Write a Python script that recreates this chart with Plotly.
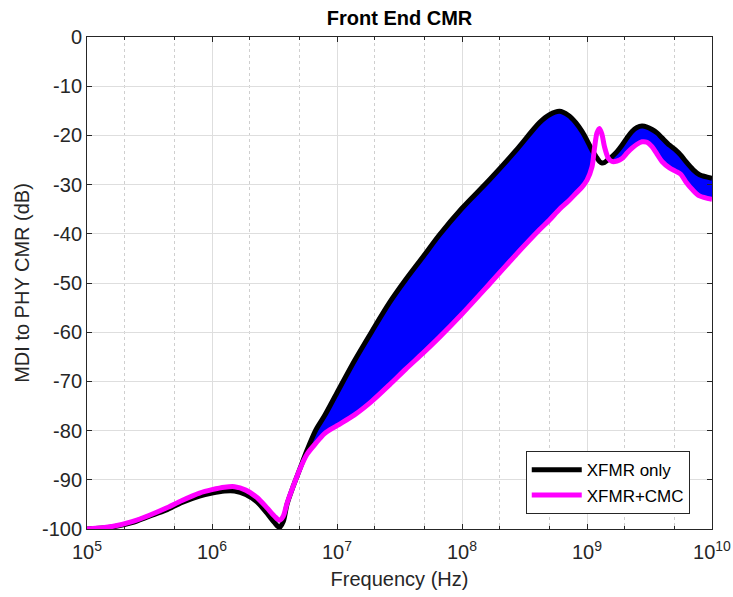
import plotly.graph_objects as go

# Frequency points (Hz)
freq_hz = [1.0e5, 1.585e5, 2.291e5, 3.162e5, 4.266e5, 5.754e5, 7.943e5, 1.0e6,
           1.259e6, 1.514e6, 1.862e6, 2.291e6, 2.754e6, 3.162e6, 3.467e6, 3.715e6,
           3.981e6, 4.467e6, 5.012e6, 5.754e6, 6.761e6, 7.943e6, 1.0e7, 1.380e7,
           1.905e7, 2.630e7, 3.548e7, 4.898e7, 6.607e7, 1.0e8, 1.660e8, 2.692e8,
           4.169e8, 5.012e8, 6.026e8, 7.079e8, 8.128e8, 9.120e8, 1.0e9, 1.096e9,
           1.148e9, 1.202e9, 1.259e9, 1.318e9, 1.380e9, 1.479e9, 1.585e9, 1.738e9,
           1.905e9, 2.089e9, 2.291e9, 2.512e9, 2.754e9, 3.020e9, 3.311e9, 3.631e9,
           3.981e9, 4.571e9, 5.129e9, 5.623e9, 6.166e9, 7.079e9, 7.943e9, 1.0e10]

# XFMR only (dB)
xfmr_only = [-100.0, -99.6, -98.7, -97.4, -96.2, -94.6, -93.3, -92.7,
             -92.3, -92.3, -93.0, -94.5, -96.8, -98.7, -99.7, -98.5,
             -95.0, -91.3, -88.0, -84.0, -79.9, -77.0, -72.3, -65.8,
             -59.8, -54.0, -49.3, -44.6, -40.2, -34.8, -29.0, -23.1,
             -17.4, -15.8, -15.1, -15.9, -17.4, -19.2, -21.0, -23.0,
             -23.8, -24.6, -25.3, -25.6, -25.5, -24.9, -24.3, -23.3,
             -22.0, -20.5, -19.2, -18.4, -18.1, -18.3, -18.8, -19.5,
             -20.5, -22.0, -23.0, -24.0, -25.3, -27.0, -28.0, -28.7]

# XFMR+CMC (dB)
xfmr_cmc = [-100.0, -99.5, -98.5, -97.2, -95.8, -94.2, -92.7, -92.0,
            -91.5, -91.4, -92.1, -93.6, -95.7, -97.4, -98.2, -97.4,
            -94.8, -91.3, -88.0, -84.8, -82.6, -80.6, -79.0, -76.8,
            -74.0, -70.7, -67.5, -64.2, -61.0, -56.3, -50.2, -44.3,
            -39.2, -37.2, -35.0, -33.4, -31.8, -30.5, -29.1, -26.4,
            -22.6, -19.5, -18.6, -19.8, -22.3, -24.6, -25.3, -25.2,
            -24.7, -23.6, -22.6, -21.8, -21.3, -21.4, -22.3, -23.8,
            -25.3, -26.6, -27.3, -27.9, -29.4, -31.2, -32.3, -33.0]

x_tick_vals = [1e5, 1e6, 1e7, 1e8, 1e9, 1e10]
x_tick_text = ["10<sup>5</sup>", "10<sup>6</sup>", "10<sup>7</sup>",
               "10<sup>8</sup>", "10<sup>9</sup>", "10<sup>10</sup>"]
y_tick_vals = [0, -10, -20, -30, -40, -50, -60, -70, -80, -90, -100]
y_tick_text = ["0", "-10", "-20", "-30", "-40", "-50", "-60", "-70", "-80", "-90", "-100"]

lower_edge = [min(a, b) for a, b in zip(xfmr_only, xfmr_cmc)]

FONT = "Liberation Sans, Arial, Helvetica, sans-serif"
AX = "#262626"
SH = dict(shape="spline", smoothing=0.8)

fig = go.Figure()
fig.add_trace(go.Scatter(x=freq_hz, y=lower_edge, mode="lines",
                         line=dict(width=0, color="#0000ff", **SH),
                         showlegend=False, hoverinfo="skip"))
fig.add_trace(go.Scatter(x=freq_hz, y=xfmr_only, mode="lines", fill="tonexty",
                         fillcolor="#0000ff",
                         line=dict(width=0, color="#0000ff", **SH),
                         showlegend=False, hoverinfo="skip"))
fig.add_trace(go.Scatter(x=freq_hz, y=xfmr_only, mode="lines", name="XFMR only",
                         line=dict(width=5, color="#000000", **SH)))
fig.add_trace(go.Scatter(x=freq_hz, y=xfmr_cmc, mode="lines", name="XFMR+CMC",
                         line=dict(width=5, color="#ff00ff", **SH)))

W, H = 733, 597
fig.update_layout(
    width=W, height=H,
    margin=dict(l=87, r=21, t=37, b=68, autoexpand=False),
    paper_bgcolor="white", plot_bgcolor="white",
    font=dict(family=FONT, size=19, color=AX),
    title=dict(text="<b>Front End CMR</b>", x=(87 + 312.5) / W, xanchor="center",
               y=1 - 18 / H, yanchor="middle",
               font=dict(family=FONT, size=20, color="#000000")),
    showlegend=True,
    legend=dict(x=0.702, y=0.03, xanchor="left", yanchor="bottom",
                traceorder="normal",
                bgcolor="white", bordercolor=AX, borderwidth=1,
                font=dict(family=FONT, size=17, color="#000000"),
                itemwidth=50, tracegroupgap=0),
)

fig.update_xaxes(
    type="log", range=[5, 10], automargin=False,
    tickvals=x_tick_vals, ticktext=x_tick_text,
    ticks="inside", ticklen=5, tickcolor=AX,
    showline=True, linecolor=AX, linewidth=1, mirror="allticks",
    showgrid=True, gridcolor="#dedede", gridwidth=1, zeroline=False,
    tickfont=dict(family=FONT, size=20, color=AX),
    ticklabelstandoff=5, ticklabeloverflow="allow",
    minor=dict(ticks="inside", ticklen=3, tickcolor=AX, showgrid=True,
               gridcolor="#cfcfcf", griddash="dot", gridwidth=1),
    title=dict(text="Frequency (Hz)", font=dict(family=FONT, size=20, color=AX), standoff=9),
)
fig.update_yaxes(
    range=[-100, 0], automargin=False,
    tickvals=y_tick_vals, ticktext=y_tick_text,
    ticks="inside", ticklen=5, tickcolor=AX,
    showline=True, linecolor=AX, linewidth=1, mirror="allticks",
    showgrid=True, gridcolor="#dedede", gridwidth=1, zeroline=False,
    tickfont=dict(family=FONT, size=20, color=AX),
    title=dict(text="MDI to PHY CMR (dB)", font=dict(family=FONT, size=20, color=AX), standoff=6),
)

fig.write_html("out.html", config={"displayModeBar": False},
               post_script="document.body.style.margin='0';")
